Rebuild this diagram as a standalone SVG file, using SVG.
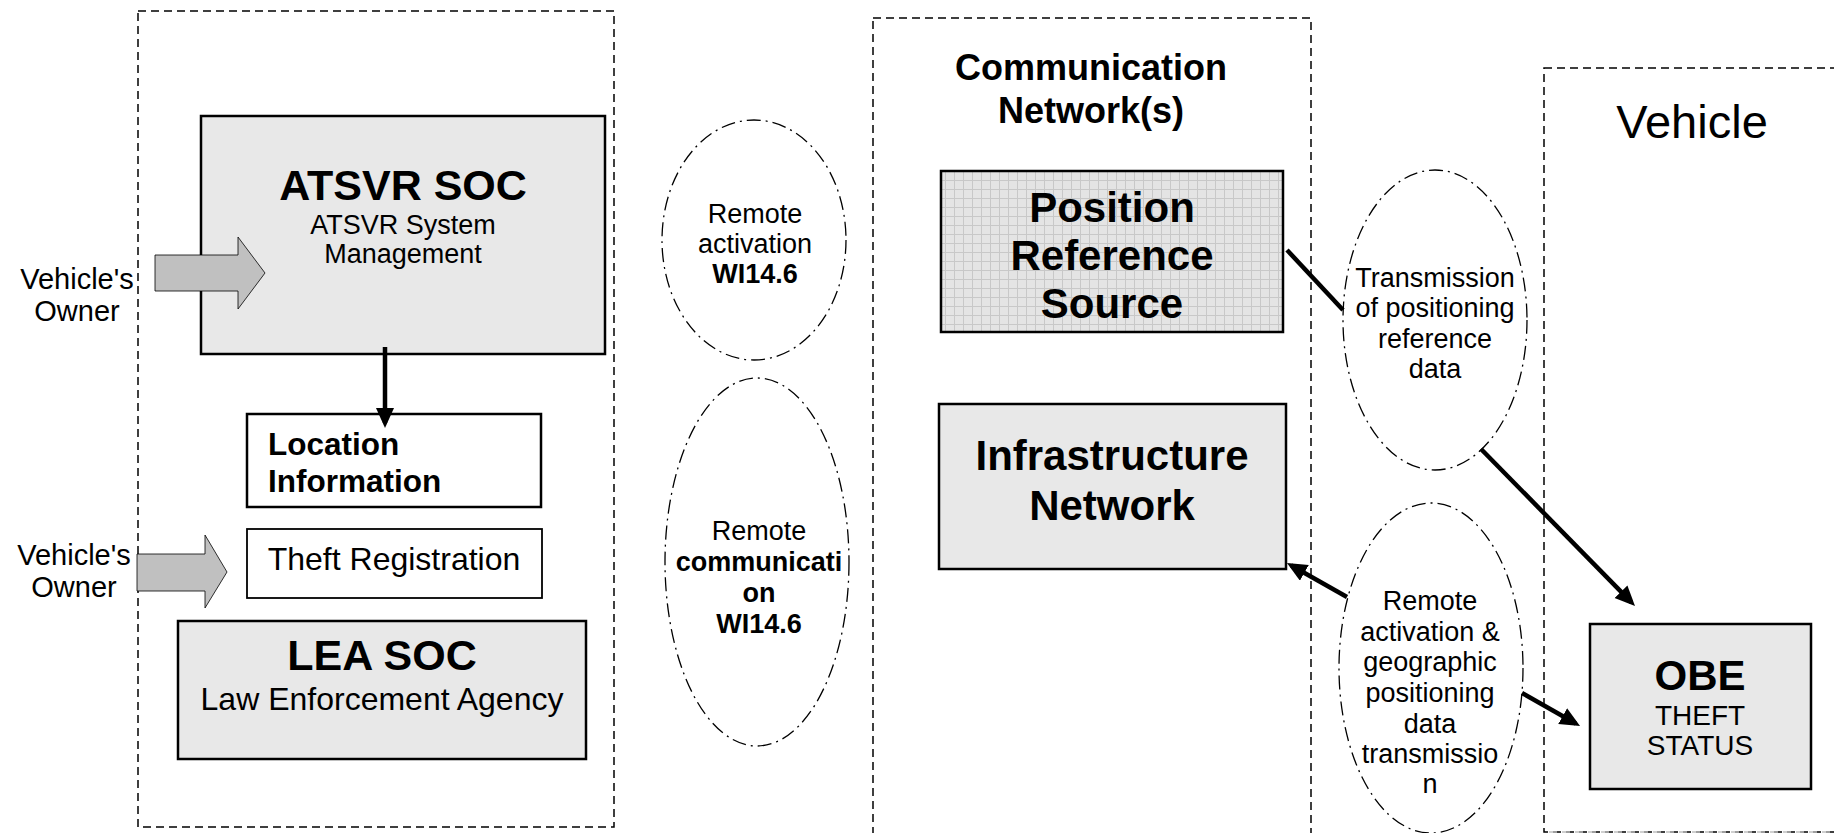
<svg xmlns="http://www.w3.org/2000/svg" width="1834" height="833" viewBox="0 0 1834 833">
<defs>
<style>
text{font-family:"Liberation Sans",Arial,Helvetica,sans-serif;fill:#000}
.b{font-weight:bold}
.m{text-anchor:middle}
.ctr{fill:none;stroke:#000;stroke-width:1.5;stroke-dasharray:8 5}
.ell{fill:none;stroke:#000;stroke-width:1.3;stroke-dasharray:14 5 2 5}
.gbox{fill:#e8e8e8;stroke:#000;stroke-width:2.5}
.wbox{fill:#fff;stroke:#000;stroke-width:2.5}
.blk{fill:#c0c0c0;stroke:#000;stroke-width:0.8}
.con{fill:none;stroke:#000;stroke-width:4.5}
.arr{marker-end:url(#ah)}
.s26{font-size:27px}
.s28{font-size:29px}
.s31{font-size:31.5px}
.s42{font-size:42px}
.s43{font-size:43px}
</style>
<marker id="ah" markerUnits="userSpaceOnUse" markerWidth="22" markerHeight="20" refX="15" refY="9" orient="auto">
<path d="M0,0 L20,9 L0,18 z" fill="#000"/>
</marker>
<pattern id="grid" width="9" height="9" patternUnits="userSpaceOnUse">
<rect width="9" height="9" fill="#e4e4e4"/>
<path d="M0,0.5 H9 M0.5,0 V9" stroke="#c8c8c8" stroke-width="1"/>
</pattern>
</defs>

<g id="containers">
<rect id="soc-area" class="ctr" x="138" y="11" width="476" height="816"/>
<rect id="comm-area" class="ctr" x="873" y="18" width="438" height="900"/>
<rect id="vehicle-area" class="ctr" x="1544" y="68" width="400" height="764"/>
<line x1="1549" y1="832" x2="1834" y2="832" stroke="#c0c0c0" stroke-width="1.5" stroke-dasharray="8 5"/>
</g>

<g id="atsvr-soc">
<rect class="gbox" x="201" y="116" width="404" height="238"/>
<text class="b m s43" x="403" y="200">ATSVR SOC</text>
<text class="m s26" x="403" y="234">ATSVR System</text>
<text class="m s26" x="403" y="263">Management</text>
</g>

<g id="owner-1">
<polygon class="blk" points="155,255 238,255 238,237 265,273 238,309 238,291 155,291"/>
<text class="m s28" x="77" y="289">Vehicle's</text>
<text class="m s28" x="77" y="321">Owner</text>
</g>

<g id="location-info">
<rect class="wbox" x="247" y="414" width="294" height="93"/>
<text class="b s31" x="268" y="455">Location</text>
<text class="b s31" x="268" y="492">Information</text>
</g>

<g id="theft-registration">
<rect class="wbox" x="247" y="529" width="295" height="69" style="stroke-width:1.8"/>
<text class="m" x="394" y="570" style="font-size:32px">Theft Registration</text>
</g>

<g id="owner-2">
<polygon class="blk" points="137,554 205,554 205,535 227,572 205,608 205,591 137,591"/>
<text class="m s28" x="74" y="565">Vehicle's</text>
<text class="m s28" x="74" y="597">Owner</text>
</g>

<g id="lea-soc">
<rect class="gbox" x="178" y="621" width="408" height="138"/>
<text class="b m s43" x="382" y="670">LEA SOC</text>
<text class="m" x="382" y="710" style="font-size:32px">Law Enforcement Agency</text>
</g>

<g id="remote-activation">
<ellipse class="ell" cx="754" cy="240" rx="92" ry="120"/>
<text class="m s26" x="755" y="223">Remote</text>
<text class="m s26" x="755" y="253">activation</text>
<text class="b m s26" x="755" y="283">WI14.6</text>
</g>

<g id="remote-communication">
<ellipse class="ell" cx="757" cy="562" rx="92" ry="184"/>
<text class="m s26" x="759" y="540">Remote</text>
<text class="b m s26" x="759" y="571">communicati</text>
<text class="b m s26" x="759" y="602">on</text>
<text class="b m s26" x="759" y="633">WI14.6</text>
</g>

<g id="comm-title">
<text class="b m" x="1091" y="80" style="font-size:36px">Communication</text>
<text class="b m" x="1091" y="123" style="font-size:36px">Network(s)</text>
</g>

<g id="position-reference">
<rect x="941" y="171" width="342" height="161" fill="url(#grid)" stroke="#000" stroke-width="2.5"/>
<text class="b m s42" x="1112" y="222">Position</text>
<text class="b m s42" x="1112" y="270">Reference</text>
<text class="b m s42" x="1112" y="318">Source</text>
</g>

<g id="infrastructure-network">
<rect class="gbox" x="939" y="404" width="347" height="165"/>
<text class="b m s42" x="1112" y="470">Infrastructure</text>
<text class="b m s42" x="1112" y="520">Network</text>
</g>

<g id="transmission">
<ellipse class="ell" cx="1435" cy="320" rx="92" ry="150"/>
<text class="m s26" x="1435" y="287">Transmission</text>
<text class="m s26" x="1435" y="317">of positioning</text>
<text class="m s26" x="1435" y="348">reference</text>
<text class="m s26" x="1435" y="378">data</text>
</g>

<g id="remote-activation-geo">
<ellipse class="ell" cx="1431" cy="668" rx="92" ry="165"/>
<text class="m s26" x="1430" y="610">Remote</text>
<text class="m s26" x="1430" y="641">activation &amp;</text>
<text class="m s26" x="1430" y="671">geographic</text>
<text class="m s26" x="1430" y="702">positioning</text>
<text class="m s26" x="1430" y="733">data</text>
<text class="m s26" x="1430" y="763">transmissio</text>
<text class="m s26" x="1430" y="793">n</text>
</g>

<g id="vehicle-title">
<text class="m" x="1692" y="138" style="font-size:47px">Vehicle</text>
</g>

<g id="obe">
<rect class="gbox" x="1590" y="624" width="221" height="165"/>
<text class="b m s42" x="1700" y="690">OBE</text>
<text class="m" x="1700" y="725" style="font-size:28px">THEFT</text>
<text class="m" x="1700" y="755" style="font-size:28px">STATUS</text>
</g>

<g id="connectors">
<line class="con arr" x1="385" y1="347" x2="385" y2="423"/>
<line class="con" x1="1287" y1="250" x2="1343" y2="310"/>
<line class="con arr" x1="1481" y1="449" x2="1631.5" y2="602.4"/>
<line class="con arr" x1="1347" y1="597" x2="1291.3" y2="565.5"/>
<line class="con arr" x1="1522" y1="693" x2="1575.7" y2="723.5"/>
</g>
</svg>
